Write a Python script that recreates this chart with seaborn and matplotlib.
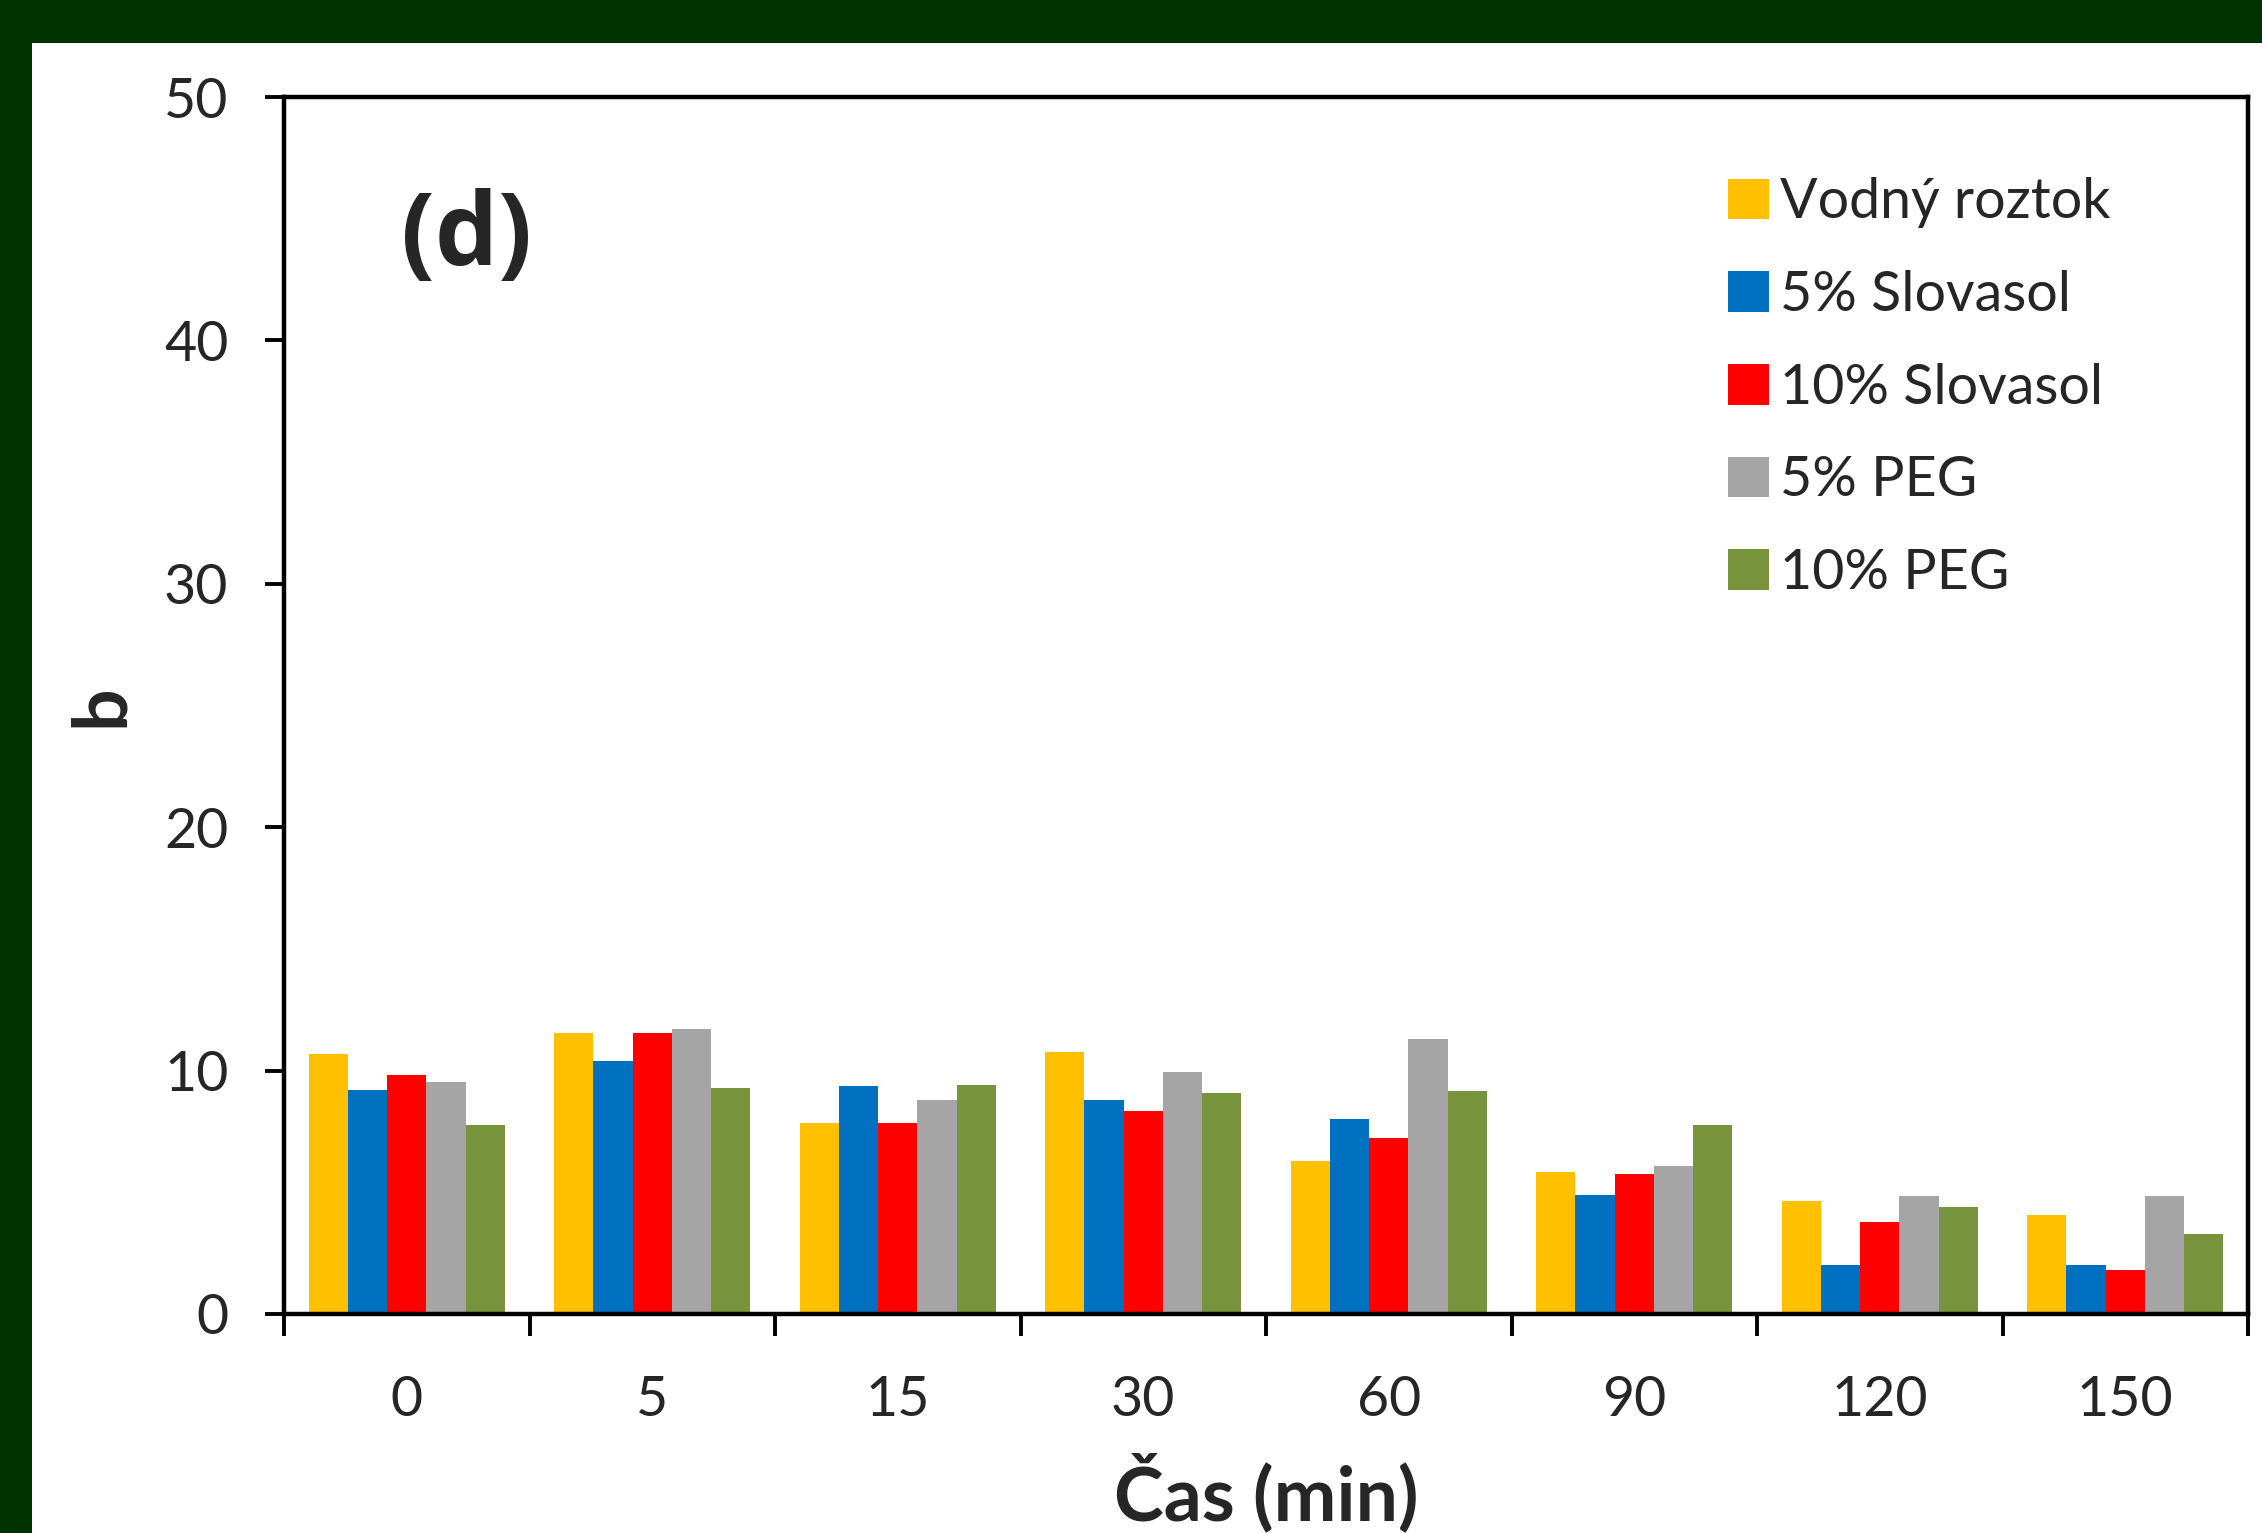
import matplotlib
matplotlib.use("Agg")
import matplotlib.pyplot as plt
import seaborn as sns
import pandas as pd
from matplotlib.patches import Rectangle
from matplotlib.ticker import FixedLocator

# Sampling times (min) and measured b values per solution
times = ["0", "5", "15", "30", "60", "90", "120", "150"]
series = ["Vodný roztok", "5% Slovasol", "10% Slovasol", "5% PEG", "10% PEG"]
vodny = [10.7, 11.55, 7.85, 10.75, 6.3, 5.85, 4.65, 4.05]
slovasol5 = [9.2, 10.4, 9.35, 8.8, 8.0, 4.9, 2.0, 2.0]
slovasol10 = [9.8, 11.55, 7.85, 8.35, 7.25, 5.75, 3.8, 1.8]
peg5 = [9.55, 11.7, 8.8, 9.95, 11.3, 6.1, 4.85, 4.85]
peg10 = [7.75, 9.3, 9.4, 9.1, 9.15, 7.75, 4.4, 3.3]
colors = ["#FFC000", "#0070C0", "#FF0000", "#A5A5A5", "#77933C"]
y_ticks = [0, 10, 20, 30, 40, 50]

values = [vodny, slovasol5, slovasol10, peg5, peg10]
rows = []
for name, vals in zip(series, values):
    for t, v in zip(times, vals):
        rows.append({"Čas": t, "b": v, "Roztok": name})
df = pd.DataFrame(rows)

sns.set_style("white")
plt.rcParams["font.family"] = ["Lato", "DejaVu Sans"]

W, H = 2262, 1533
fig = plt.figure(figsize=(W / 200, H / 200), dpi=200, facecolor="#003300")
# white panel inside the dark frame
fig.patches.append(Rectangle((32 / W, 0), 1 - 32 / W, 1 - 43 / H,
                             transform=fig.transFigure, facecolor="white",
                             edgecolor="none", zorder=-10))

ax = fig.add_axes([284 / W, 1 - 1314 / H, 1964 / W, 1217 / H])
ax.set_zorder(1)
ax.set_facecolor("white")

sns.barplot(data=df, x="Čas", y="b", hue="Roztok", order=times,
            hue_order=series, palette=colors, saturation=1, width=0.8,
            gap=0, linewidth=0, ax=ax, errorbar=None)

ax.set_xlim(-0.5, len(times) - 0.5)
ax.set_ylim(0, 50)
ax.set_yticks(y_ticks)

# category boundaries carry the tick marks on the x axis
ax.xaxis.set_minor_locator(FixedLocator([i - 0.5 for i in range(len(times) + 1)]))
ax.tick_params(axis="x", which="major", length=0, pad=22, labelsize=20)
ax.tick_params(axis="x", which="minor", length=8, width=1.4, direction="out",
               color="black", bottom=True)
ax.tick_params(axis="y", which="major", length=7, width=1.4, direction="out",
               pad=13, labelsize=20, left=True, color="black")

for s in ax.spines.values():
    s.set_visible(True)
    s.set_color("black")
    s.set_linewidth(1.6)

ax.set_xlabel("Čas (min)", fontsize=27, fontweight="bold")
ax.set_ylabel("b", fontsize=27, fontweight="bold")
ax.xaxis.set_label_coords(0.5, -0.147)
ax.xaxis.label.set_va("center")
ax.yaxis.set_label_coords(-0.093, 0.5)
ax.yaxis.label.set_va("center")

ax.text(0.0927, 0.884, "(d)", transform=ax.transAxes, ha="center",
        va="center", fontsize=36, fontweight="bold",
        family=["Open Sans", "DejaVu Sans"])

leg = ax.legend(loc="upper left", bbox_to_anchor=(0.735, 0.934),
                frameon=False, fontsize=20, handlelength=0.75,
                handleheight=0.75, handletextpad=0.2, labelspacing=0.75,
                borderpad=0, borderaxespad=0)

fig.savefig("out.png", dpi=200, facecolor=fig.get_facecolor())
